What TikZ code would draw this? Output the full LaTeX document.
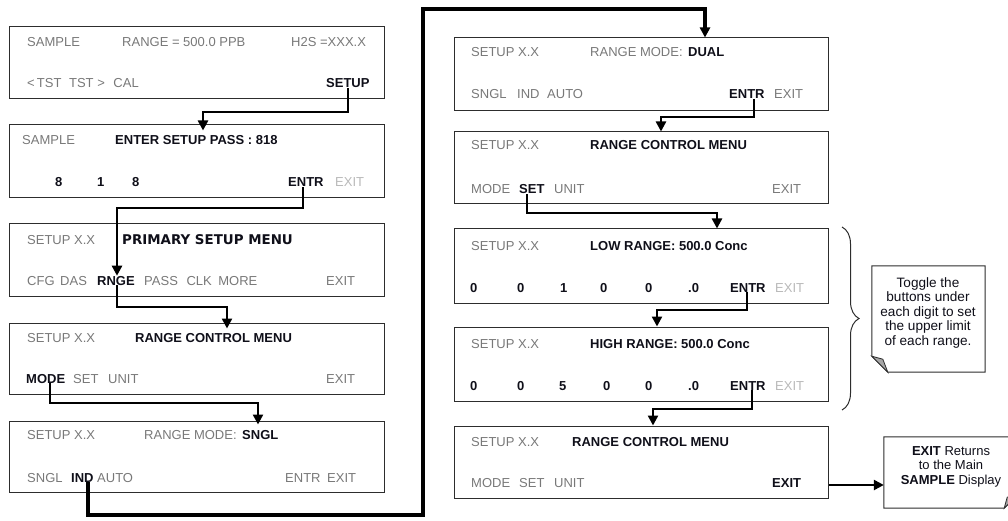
\documentclass[tikz,border=0pt]{standalone}
\usepackage{fontspec}
\setmainfont{Liberation Sans}
\newfontfamily\verdfont{DejaVu Sans}
\usetikzlibrary{arrows.meta,decorations.pathreplacing,calc}
\definecolor{tg}{RGB}{120,120,120}
\definecolor{tl}{RGB}{185,185,185}
\definecolor{tb}{RGB}{15,15,25}
\definecolor{bx}{RGB}{45,45,45}
\newcommand{\fs}{\fontsize{13}{15}\selectfont}
\begin{document}
\begin{tikzpicture}[x=1pt,y=-1pt,
  scr/.style={draw=bx,line width=1pt,inner sep=0pt,minimum width=374.5pt},
  gtxt/.style={anchor=base west,inner sep=0pt,font=\fs,text=tg},
  ltxt/.style={gtxt,text=tl},
  btxt/.style={anchor=base west,inner sep=0pt,font=\fs\bfseries,text=tb},
  ntxt/.style={anchor=base,inner sep=0pt,font=\fs,text=tb},
  conn/.style={line width=2.4pt,-{Triangle[width=10pt,length=10pt]}},
  longconn/.style={conn,line width=3.2pt},
  notebox/.style={draw=bx,line width=1pt,fill=white},
  fold/.style={draw=bx,line width=0.8pt,fill=black!35}]
\useasboundingbox (0,0) rectangle (1008,521);

% ---------- left column boxes ----------
\node[scr,minimum height=72pt] (b1) at (197,63) {};
\node[scr,minimum height=73pt] (b2) at (197,161.5) {};
\node[scr,minimum height=72pt] (b3) at (197,260) {};
\node[scr,minimum height=71pt] (b4) at (197,358.5) {};
\node[scr,minimum height=71pt] (b5) at (197,456.5) {};
% ---------- right column boxes ----------
\node[scr,minimum height=73pt] (b6) at (641.5,74.5) {};
\node[scr,minimum height=72pt] (b7) at (641.5,168) {};
\node[scr,minimum height=74pt] (b8) at (641.5,266) {};
\node[scr,minimum height=74pt] (b9) at (641.5,364) {};
\node[scr,minimum height=72pt] (b10) at (641.5,462) {};

% box 1
\node[gtxt] (b1a) at (27,47) {SAMPLE};
\node[gtxt] (b1b) at (122,47) {RANGE = 500.0 PPB};
\node[gtxt] (b1c) at (291,47) {H2S =XXX.X};
\node[gtxt] (b1d) at (27,88) {<\,TST\hspace{4pt} TST >\hspace{5pt} CAL};
\node[btxt] (setupa) at (326,88) {SETUP};
% box 2
\node[gtxt] (b2a) at (22,145) {SAMPLE};
\node[btxt] (b2b) at (115,145) {ENTER SETUP PASS : 818};
\node[btxt] (b2c) at (55,187) {8};
\node[btxt] (b2d) at (97,187) {1};
\node[btxt] (b2e) at (132,187) {8};
\node[btxt] (entrb) at (288,187) {ENTR};
\node[ltxt] (b2g) at (335,187) {EXIT};
% box 3
\node[gtxt] (b3a) at (27,244) {SETUP X.X};
\node[btxt,font=\verdfont\bfseries\fontsize{13.4}{15}\selectfont] (b3b) at (122,244) {PRIMARY SETUP MENU};
\node[gtxt] (b3c) at (27,285) {CFG\hspace{2pt} DAS};
\node[btxt] (rnge) at (97,285) {RNGE};
\node[gtxt] (b3e) at (144,285) {PASS\hspace{5pt} CLK\hspace{3pt} MORE};
\node[gtxt] (b3f) at (326,285) {EXIT};
% box 4
\node[gtxt] (b4a) at (27,342) {SETUP X.X};
\node[btxt] (b4b) at (135,342) {RANGE CONTROL MENU};
\node[btxt] (modea) at (26,383) {MODE};
\node[gtxt] (b4d) at (73,383) {SET};
\node[gtxt] (b4e) at (108,383) {UNIT};
\node[gtxt] (b4f) at (326,383) {EXIT};
% box 5
\node[gtxt] (b5a) at (27,439) {SETUP X.X};
\node[gtxt] (b5b) at (144,439) {RANGE MODE:};
\node[btxt] (b5c) at (242,439) {SNGL};
\node[gtxt] (b5d) at (27,482) {SNGL};
\node[btxt] (inda) at (71,482) {IND};
\node[gtxt] (b5f) at (97,482) {AUTO};
\node[gtxt] (b5g) at (285,482) {ENTR\hspace{3pt} EXIT};
% box 6
\node[gtxt] (b6a) at (471,57) {SETUP X.X};
\node[gtxt] (b6b) at (590,57) {RANGE MODE:};
\node[btxt] (b6c) at (688,57) {DUAL};
\node[gtxt] (b6d) at (471,99) {SNGL};
\node[gtxt] (b6e) at (517,99) {IND};
\node[gtxt] (b6f) at (547,99) {AUTO};
\node[btxt] (entrc) at (729,99) {ENTR};
\node[gtxt] (b6h) at (774,99) {EXIT};
% box 7
\node[gtxt] (b7a) at (471,150) {SETUP X.X};
\node[btxt] (b7b) at (590,150) {RANGE CONTROL MENU};
\node[gtxt] (b7c) at (471,194) {MODE};
\node[btxt] (setb) at (519,194) {SET};
\node[gtxt] (b7e) at (554,194) {UNIT};
\node[gtxt] (b7f) at (772,194) {EXIT};
% box 8
\node[gtxt] (b8a) at (471,250) {SETUP X.X};
\node[btxt] (b8b) at (590,250) {LOW RANGE: 500.0 Conc};
\node[btxt] (b8c) at (470,292) {0};
\node[btxt] (b8d) at (517,292) {0};
\node[btxt] (b8e) at (560,292) {1};
\node[btxt] (b8f) at (600,292) {0};
\node[btxt] (b8g) at (645,292) {0};
\node[btxt] (b8h) at (688,292) {.0};
\node[btxt] (entrd) at (730,292) {ENTR};
\node[ltxt] (b8j) at (775,292) {EXIT};
% box 9
\node[gtxt] (b9a) at (471,348) {SETUP X.X};
\node[btxt] (b9b) at (590,348) {HIGH RANGE: 500.0 Conc};
\node[btxt] (b9c) at (470,390) {0};
\node[btxt] (b9d) at (517,390) {0};
\node[btxt] (b9e) at (559,390) {5};
\node[btxt] (b9f) at (603,390) {0};
\node[btxt] (b9g) at (645,390) {0};
\node[btxt] (b9h) at (688,390) {.0};
\node[btxt] (entre) at (730,390) {ENTR};
\node[ltxt] (b9j) at (775,390) {EXIT};
% box 10
\node[gtxt] (b10a) at (471,446) {SETUP X.X};
\node[btxt] (b10b) at (572,446) {RANGE CONTROL MENU};
\node[gtxt] (b10c) at (471,487) {MODE};
\node[gtxt] (b10d) at (519,487) {SET};
\node[gtxt] (b10e) at (554,487) {UNIT};
\node[btxt] (b10f) at (772,487) {EXIT};

% ---------- brace ----------
\draw[draw=bx,line width=1pt,decorate,decoration={brace,amplitude=17pt,aspect=0.5}] (842,227) -- (842,410);

% ---------- note 1 ----------
\node[inner sep=0pt,minimum width=113pt,minimum height=106pt] (n1) at (928.5,319) {};
\draw[notebox] (n1.north west) -- (n1.north east) -- (n1.south east) -- ($(n1.south west)+(16,0)$) -- ($(n1.south west)+(0,-16)$) -- cycle;
\draw[fold] ($(n1.south west)+(0,-16)$) -- ($(n1.south west)+(16,0)$) -- ($(n1.south west)+(11,-13)$) -- cycle;
\node[ntxt,font=\fontsize{13.6}{15}\selectfont] (n1a) at (928,287) {Toggle the};
\node[ntxt,font=\fontsize{13.6}{15}\selectfont] (n1b) at (928,301.5) {buttons under};
\node[ntxt,font=\fontsize{13.6}{15}\selectfont] (n1c) at (928,316) {each digit to set};
\node[ntxt,font=\fontsize{13.6}{15}\selectfont] (n1d) at (928,330.5) {the upper limit};
\node[ntxt,font=\fontsize{13.6}{15}\selectfont] (n1e) at (928,345) {of each range.};

% ---------- note 2 ----------
\node[inner sep=0pt,minimum width=134pt,minimum height=71pt] (n2) at (951,472.5) {};
\draw[notebox] (n2.north west) -- (n2.north east) -- ($(n2.south east)+(0,-14)$) -- ($(n2.south east)+(-14,0)$) -- (n2.south west) -- cycle;
\draw[fold] ($(n2.south east)+(-14,0)$) -- ($(n2.south east)+(-11,-11)$) -- ($(n2.south east)+(0,-14)$) -- cycle;
\node[ntxt] (n2a) at (951,455) {\textbf{EXIT} Returns};
\node[ntxt] (n2b) at (951,469.5) {to the Main};
\node[ntxt] (n2c) at (951,484) {\textbf{SAMPLE} Display};

% ---------- connectors ----------
\draw[conn,shorten >=-6pt] (setupa.south -| 348,0) |- (203,112) -- (b2.north -| 203,0);
\draw[conn] (entrb.south -| 303,0) |- (117,208) -- (rnge.north -| 117,0);
\draw[conn,shorten >=-6pt] (rnge.south -| 117,0) |- (227,307) -- (b4.north -| 227,0);
\draw[conn,shorten >=-4pt] (modea.south -| 50,0) |- (258,403) -- (b5.north -| 258,0);
\draw[longconn] (inda.south -| 88,0) |- (423,515) |- (705,9) -- (b6.north -| 705,0);
\draw[conn] (entrc.south -| 754,0) |- (661,117) -- (b7.north -| 661,0);
\draw[conn] (setb.south -| 527,0) |- (717,213) -- (b8.north -| 717,0);
\draw[conn] (entrd.south -| 747,0) |- (657,310) -- (b9.north -| 657,0);
\draw[conn] (entre.south -| 752,0) |- (653,409) -- (b10.north -| 653,0);
\draw[conn] (b10.east |- 0,485) -- (n2.west |- 0,485);
\end{tikzpicture}
\end{document}
